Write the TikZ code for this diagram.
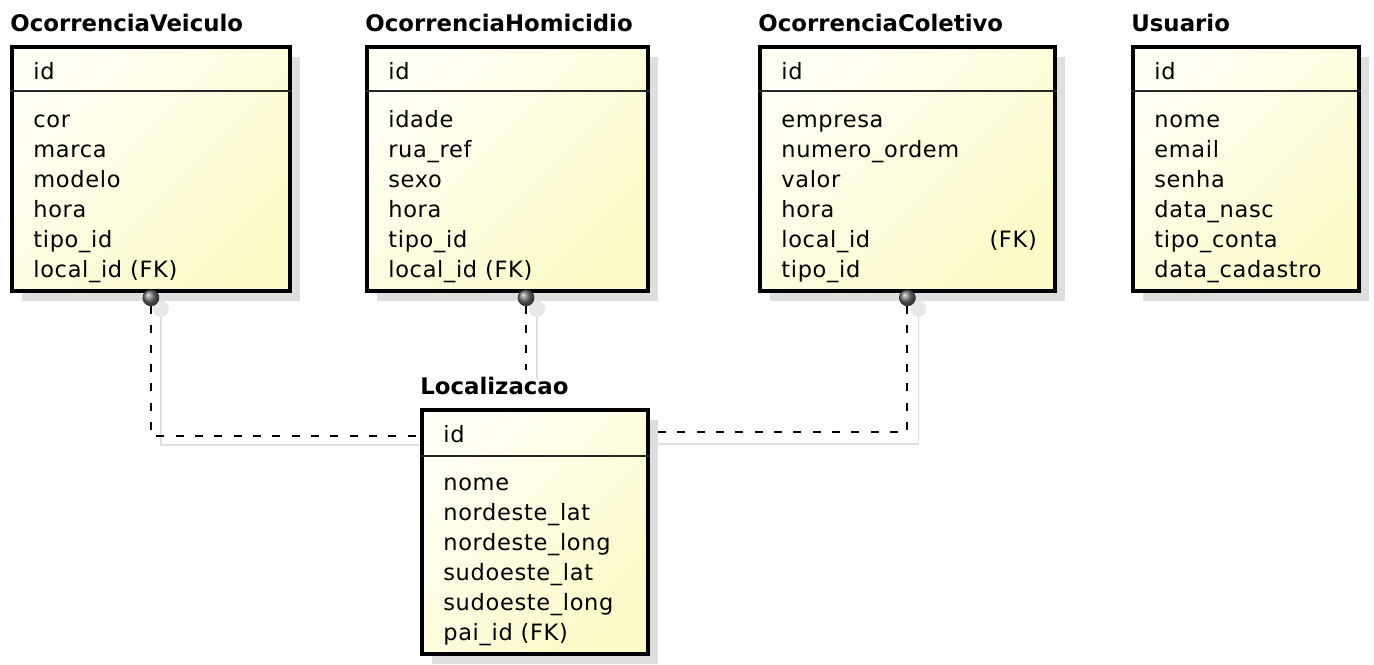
\documentclass[tikz,border=0pt]{standalone}
\usepackage{fontspec}
\setmainfont{DejaVu Sans}
\newfontfamily\attrfont[LetterSpace=3]{DejaVu Sans}
\usetikzlibrary{positioning,calc,shadows,backgrounds}

\definecolor{entlight}{HTML}{FFFFF5}
\definecolor{entdark}{HTML}{FCFAC8}
\definecolor{ghost}{HTML}{DEDEDE}

\begin{document}
\begin{tikzpicture}[
		x=0.02cm, y=-0.02cm,
		entity/.style={draw, line width=2.2pt, anchor=north west, inner sep=0pt, minimum height=4.88cm,
			top color=entlight, bottom color=entdark, shading angle=45,
			drop shadow={shadow xshift=5.5pt, shadow yshift=-5.5pt, fill=black!13, opacity=1}},
		entname/.style={anchor=base west, inner sep=0pt, font=\bfseries\fontsize{13}{15}\selectfont},
		pkey/.style={anchor=base west, inner sep=0pt, font=\attrfont\fontsize{12.8}{17.07}\selectfont},
		attrs/.style={anchor=north west, inner sep=0pt, align=left, font=\attrfont\fontsize{12.8}{17.07}\selectfont},
		sepline/.style={line width=1pt, black!85},
		fkdot/.style={circle, draw=black!80, thin, inner sep=0pt, minimum size=0.32cm, ball color=black!55},
		ghostdot/.style={circle, inner sep=0pt, minimum size=0.32cm, fill=black!9},
		fk/.style={line width=1.1pt, dash pattern=on 4.5pt off 6.5pt},
		ghostline/.style={line width=0.8pt, ghost},
	]
		\useasboundingbox (0,0) rectangle (1374,665);

		% entities
		\node[entity, minimum width=5.56cm] (veic) at (10,45) {};
		\node[entname] (veicn) at ($(veic.north west)+(0,-13)$) {OcorrenciaVeiculo};
		\node[pkey] (veicid) at ($(veic.north west)+(23,35)$) {id};
		\draw[sepline] ($(veic.north west)+(0,46)$) -- ($(veic.north east)+(0,46)$);
		\node[attrs] (veica) at ($(veic.north west)+(23,61)$) {\strut cor\\marca\\modelo\\hora\\tipo\_id\\local\_id (FK)};

		\node[entity, minimum width=5.62cm] (homi) at (365,45) {};
		\node[entname] (homin) at ($(homi.north west)+(0,-13)$) {OcorrenciaHomicidio};
		\node[pkey] (homiid) at ($(homi.north west)+(23,35)$) {id};
		\draw[sepline] ($(homi.north west)+(0,46)$) -- ($(homi.north east)+(0,46)$);
		\node[attrs] (homia) at ($(homi.north west)+(23,61)$) {\strut idade\\rua\_ref\\sexo\\hora\\tipo\_id\\local\_id (FK)};

		\node[entity, minimum width=5.9cm] (colet) at (758,45) {};
		\node[entname] (coletn) at ($(colet.north west)+(0,-13)$) {OcorrenciaColetivo};
		\node[pkey] (coletid) at ($(colet.north west)+(23,35)$) {id};
		\draw[sepline] ($(colet.north west)+(0,46)$) -- ($(colet.north east)+(0,46)$);
		\node[attrs] (coleta) at ($(colet.north west)+(23,61)$) {\strut empresa\\numero\_ordem\\valor\\hora\\\makebox[118.5pt][l]{local\_id}(FK)\\tipo\_id};

		\node[entity, minimum width=4.52cm] (user) at (1131,45) {};
		\node[entname] (usern) at ($(user.north west)+(0,-13)$) {Usuario};
		\node[pkey] (userid) at ($(user.north west)+(23,35)$) {id};
		\draw[sepline] ($(user.north west)+(0,46)$) -- ($(user.north east)+(0,46)$);
		\node[attrs] (usera) at ($(user.north west)+(23,61)$) {\strut nome\\email\\senha\\data\_nasc\\tipo\_conta\\data\_cadastro};

		\node[entity, minimum width=4.52cm] (loc) at (420,408) {};
		\node[entname] (locn) at ($(loc.north west)+(0,-13)$) {Localizacao};
		\node[pkey] (locid) at ($(loc.north west)+(23,35)$) {id};
		\draw[sepline] ($(loc.north west)+(0,48)$) -- ($(loc.north east)+(0,48)$);
		\node[attrs] (loca) at ($(loc.north west)+(23,61)$) {\strut nome\\nordeste\_lat\\nordeste\_long\\sudoeste\_lat\\sudoeste\_long\\pai\_id (FK)};

		% relationships
		\node[fkdot] (dv) at ($(veic.south)+(0,5)$) {};
		\node[fkdot] (dh) at ($(homi.south west)+(161,5)$) {};
		\node[fkdot] (dc) at ($(colet.south)+(0,5)$) {};
		\coordinate (vl) at ($(loc.north west)+(0,28)$);
		\coordinate (cl) at ($(loc.north east)+(0,24)$);
		\coordinate (hend) at ($(dh)+(0,72)$);

		\draw[fk] (dv) |- (vl);
		\draw[fk] (dh) -- (hend);
		\draw[fk] (dc) |- (cl);

		\begin{scope}[on background layer]
			\node[ghostdot] (gv) at ($(dv)+(10,11)$) {};
			\node[ghostdot] (gh) at ($(dh)+(11,11)$) {};
			\node[ghostdot] (gc) at ($(dc)+(11,11)$) {};
			\draw[ghostline] (gv) |- ($(vl)+(13,9)$);
			\draw[ghostline] (gh) -- ($(hend)+(11,9)$);
			\draw[ghostline] (gc) |- ($(cl)+(6,12)$);
		\end{scope}
	\end{tikzpicture}
\end{document}
